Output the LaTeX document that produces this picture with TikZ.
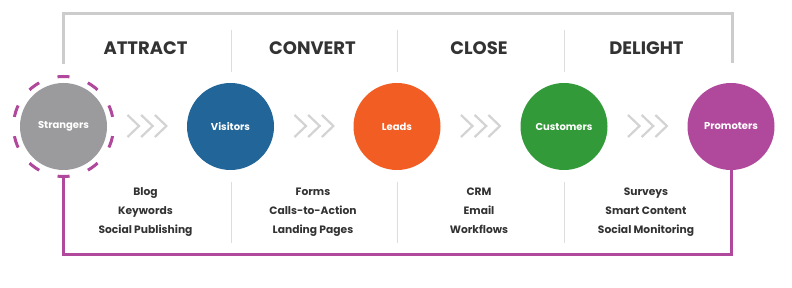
\documentclass[tikz,border=0pt]{standalone}
\usepackage{fontspec}
\setmainfont{Poppins}
\definecolor{strgray}{HTML}{9B9B9E}
\definecolor{visblue}{HTML}{216599}
\definecolor{leadorange}{HTML}{F15D22}
\definecolor{custgreen}{HTML}{339A3A}
\definecolor{prompurple}{HTML}{B0489B}
\definecolor{bracketgray}{HTML}{CCCCCC}
\definecolor{chevgray}{HTML}{D3D3D3}
\definecolor{divgray}{HTML}{DDDDDD}
\definecolor{txtdark}{HTML}{333333}
\tikzset{
  stage/.style={circle, minimum size=87pt, inner sep=0pt, text=white,
    font=\bfseries\fontsize{10}{12}\selectfont},
  ring/.style={circle, minimum size=100pt, inner sep=0pt, draw=prompurple, line width=3pt,
    dash pattern=on 12pt off 19.416pt, dash phase=21.7pt},
  heading/.style={font=\bfseries\fontsize{18}{21}\selectfont, text=txtdark, inner sep=0pt},
  items/.style={font=\bfseries\fontsize{10.7}{19}\selectfont, text=txtdark, align=center,
    inner sep=0pt, anchor=north},
  chev/.style={draw=chevgray, line width=2.2pt},
  divider/.style={draw=divgray, line width=1pt},
  graybracket/.style={draw=bracketgray, line width=3pt},
  purplebracket/.style={draw=prompurple, line width=3pt}
}
\begin{document}
\begin{tikzpicture}[x=1pt,y=-1pt]
\useasboundingbox (0,0) rectangle (792,288);
% stages
\node[stage, fill=strgray] (s) at (63.5,126.5) {Strangers};
\node[ring] (sr) at (63.5,126.5) {};
\node[stage, fill=visblue] (v) at (230.5,126.5) {Visitors};
\node[stage, fill=leadorange] (l) at (397,126.5) {Leads};
\node[stage, fill=custgreen] (c) at (564,126.5) {Customers};
\node[stage, fill=prompurple] (p) at (731,126.5) {Promoters};
% gray top bracket
\coordinate (gl) at (63.5,64);
\coordinate (gr) at (732,63);
\coordinate (gt) at (400,14);
\draw[graybracket] (gl) |- (gt) -| (gr);
% purple bottom bracket
\coordinate (pb) at (400,254.5);
\draw[purplebracket] (sr.south) |- (pb) -| (p.south);
% chevrons
\foreach \m in {147, 314, 480.5, 647.5} {
  \foreach \d in {-19.5, -5.8, 7.9} {
    \draw[chev] (\m+\d,115) -- (\m+\d+11.5,126) -- (\m+\d,137);
  }
}
% dividers
\foreach \x in {231, 397, 564} {
  \draw[divider] (\x,30) -- (\x,72);
  \draw[divider] (\x,182) -- (\x,243);
}
% headings
\node[heading] (h1) at (145.5,48) {ATTRACT};
\node[heading] (h2) at (312.5,48) {CONVERT};
\node[heading] (h3) at (479,48) {CLOSE};
\node[heading] (h4) at (646.5,48) {DELIGHT};
% lists
\node[items] (i1) at (145.5,182.5) {\strut Blog\\Keywords\\Social Publishing};
\node[items] (i2) at (313,182.5) {\strut Forms\\Calls-to-Action\\Landing Pages};
\node[items] (i3) at (479,182.5) {\strut CRM\\Email\\Workflows};
\node[items] (i4) at (646,182.5) {\strut Surveys\\Smart Content\\Social Monitoring};
\end{tikzpicture}
\end{document}
